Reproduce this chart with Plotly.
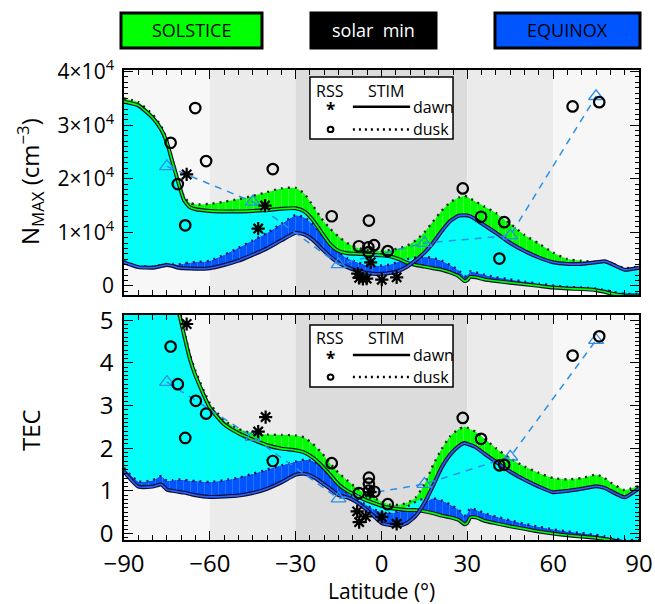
import numpy as np
import plotly.graph_objects as go

# ---------------- data ----------------
LAT = [-90, -85, -80, -77, -75, -73, -71, -69, -67, -65,
       -60, -55, -50, -45, -40, -35, -30,
       -27, -24, -21, -18, -15, -12, -9, -6, -3, 0,
       3, 6, 9, 12, 15, 18, 21, 24, 27, 29, 30, 31, 33, 36,
       40, 45, 50, 55, 60, 65, 70, 75, 78, 80, 85, 90]

NMAX_SOL_DUSK = [35000, 34300, 32000, 29800, 27300, 23500, 19800, 16600, 15500, 15200,
                 15300, 15700, 16200, 16800, 17500, 18200, 18300,
                 17200, 15000, 12600, 10700, 9200, 8000, 7200, 6800, 6600, 6500,
                 6700, 7000, 7500, 8500, 10000, 12000, 14000, 15600, 16500, 16800, 16600, 16300, 15700, 14800,
                 13600, 11600, 9500, 7900, 6200, 5000, 4650, 4500, 4700, 4300, 3300, 3650]
NMAX_SOL_DAWN = [34400, 33700, 31400, 29200, 26800, 23000, 19300, 16000, 14700, 14300,
                 14000, 13900, 13900, 14000, 14150, 14400, 14500,
                 13900, 12300, 10000, 7800, 6500, 6100, 6000, 5900, 5800, 5700,
                 5500, 5000, 4300, 3900, 3600, 3300, 3000, 2500, 1800, 900, 1100, 1700, 1600, 1200,
                 900, 600, 300, 0, -300, -500, -600, -800, -1100, -1400, -1800, -1800]
NMAX_EQ_DUSK = [4600, 3700, 3600, 3900, 4100, 4100, 4000, 4200, 4350, 4450,
                4700, 5800, 7100, 8500, 9900, 11600, 13200,
                12800, 11500, 9600, 7900, 6300, 5200, 4500, 4000, 3800, 3800,
                4000, 4500, 5000, 5300, 5400, 5200, 4700, 3900, 2900, 1800, 2000, 2700, 2500, 2100,
                1600, 1200, 800, 400, 100, -200, -300, -500, -800, -1000, -1500, -1500]
NMAX_EQ_DAWN = [4400, 3500, 3400, 3700, 3900, 3700, 3400, 3300, 3250, 3200,
                3300, 3900, 4700, 5800, 7000, 8500, 9900,
                9600, 8600, 7000, 5500, 4300, 3500, 2900, 2500, 2250, 2250,
                2400, 2800, 3600, 4800, 6200, 8000, 10200, 12100, 13100, 13200, 13150, 13000, 12400, 11300,
                9900, 8000, 6500, 5300, 4400, 4100, 4100, 4400, 4600, 4200, 3000, 3400]

TEC_SOL_DUSK = [6.5, 6.3, 6.0, 5.8, 5.6, 5.45, 5.3, 4.75, 4.2, 3.8,
                3.05, 2.65, 2.45, 2.35, 2.32, 2.31, 2.30,
                2.25, 2.1, 1.9, 1.65, 1.42, 1.25, 1.08, 0.95, 0.85, 0.75,
                0.68, 0.67, 0.72, 0.85, 1.15, 1.6, 1.98, 2.28, 2.45, 2.5, 2.48, 2.45, 2.38, 2.22,
                2.0, 1.76, 1.57, 1.42, 1.3, 1.27, 1.3, 1.38, 1.3, 1.2, 1.02, 1.12]
TEC_SOL_DAWN = [6.4, 6.2, 5.9, 5.7, 5.5, 5.35, 5.2, 4.65, 4.1, 3.7,
                2.95, 2.56, 2.35, 2.2, 2.07, 1.99, 1.95,
                1.9, 1.78, 1.6, 1.38, 1.15, 1.0, 0.9, 0.8, 0.72, 0.65,
                0.6, 0.57, 0.55, 0.55, 0.52, 0.48, 0.42, 0.38, 0.32, 0.22, 0.25, 0.38, 0.38, 0.3,
                0.24, 0.17, 0.11, 0.05, 0.0, -0.04, -0.07, -0.1, -0.13, -0.15, -0.2, -0.2]
TEC_EQ_DUSK = [1.54, 1.22, 1.25, 1.35, 1.24, 1.25, 1.27, 1.26, 1.24, 1.23,
               1.21, 1.25, 1.31, 1.4, 1.5, 1.6, 1.69,
               1.73, 1.7, 1.56, 1.35, 1.12, 0.95, 0.82, 0.7, 0.58, 0.5,
               0.48, 0.52, 0.63, 0.75, 0.82, 0.83, 0.78, 0.68, 0.56, 0.42, 0.47, 0.6, 0.56, 0.48,
               0.4, 0.31, 0.23, 0.16, 0.1, 0.05, 0.01, -0.03, -0.06, -0.1, -0.15, -0.15]
TEC_EQ_DAWN = [1.45, 1.1, 1.1, 1.15, 1.03, 1.0, 0.98, 0.96, 0.93, 0.9,
               0.86, 0.87, 0.89, 0.95, 1.05, 1.2, 1.38,
               1.4, 1.33, 1.2, 1.05, 0.9, 0.85, 0.75, 0.6, 0.43, 0.25,
               0.2, 0.19, 0.25, 0.42, 0.72, 1.12, 1.55, 1.85, 2.05, 2.12, 2.1, 2.08, 2.02, 1.87,
               1.68, 1.45, 1.26, 1.1, 0.97, 1.0, 1.05, 1.11, 1.07, 1.0, 0.85, 1.06]

RSS_DAWN_NMAX_LAT = [-68.1, -40.7, -43.1, -8.3, -7.8, -6.5, -5.2, -3.8, 0.1, 5.3]
RSS_DAWN_NMAX = [20800, 15000, 10700, 2300, 1500, 1300, 1350, 4400, 1150, 1600]
RSS_DUSK_NMAX_LAT = [-73.7, -65.1, -61.3, -71.2, -68.6, -38.0, -17.4, -4.4, -7.9, -4.6,
                     -2.6, -4.5, 2.2, 28.4, 34.8, 42.9, 41.2, 66.8, 76.1]
RSS_DUSK_NMAX = [26700, 33200, 23300, 19000, 11300, 21800, 13000, 12200, 7400, 7200,
                 7600, 6300, 6500, 18200, 12900, 11900, 5100, 33500, 34300]

RSS_DAWN_TEC_LAT = [-68.1, -40.5, -43.1, -8.5, -7.8, -5.5, -4.0, 0.1, 5.3]
RSS_DAWN_TEC = [4.91, 2.73, 2.39, 0.52, 0.27, 0.40, 0.97, 0.39, 0.23]
RSS_DUSK_TEC_LAT = [-73.7, -71.2, -64.9, -61.3, -68.6, -38.0, -17.4, -4.4, -4.4, -4.4,
                    -7.9, -2.5, 2.2, 28.4, 34.8, 41.2, 42.9, 66.8, 76.1]
RSS_DUSK_TEC = [4.38, 3.50, 3.11, 2.81, 2.24, 1.70, 1.65, 1.31, 1.17, 1.01,
                0.95, 0.98, 0.69, 2.71, 2.22, 1.60, 1.61, 4.17, 4.62]

TRI_LAT = [-75, -45, -15, 15, 45, 75]
TRI_NMAX = [22300, 15700, 4000, 8000, 9400, 35400]
TRI_TEC = [3.55, 2.26, 0.82, 1.16, 1.80, 4.53]

X_TICKS = [-90, -60, -30, 0, 30, 60, 90]
X_TICKTEXT = ["\u221290", "\u221260", "\u221230", "0", "30", "60", "90"]
NMAX_TICKS = [0, 10000, 20000, 30000, 40000]
NMAX_TICKTEXT = ["0", "1\u00d710<sup>4</sup>", "2\u00d710<sup>4</sup>", "3\u00d710<sup>4</sup>", "4\u00d710<sup>4</sup>"]
TEC_TICKS = [0, 1, 2, 3, 4, 5]

# ---------------- styles ----------------
GREEN = "#00ff00"
CYAN = "#00ffff"
BLUE = "#0055ff"
TRI_COL = "#2a8fe6"
FONT = "Open Sans"

fig = go.Figure()


def add_panel(gd, gs, bd, bs, xa, ya, rss_dawn, rss_dusk, tri):
    arr = np.sort(np.vstack([gd, gs, bd, bs]).astype(float), axis=0)
    s4, s3, s2, s1 = arr[0], arr[1], arr[2], arr[3]
    layers = [(s4, s3, BLUE, "#5b8cff"), (s3, s2, CYAN, "#30f5b8"), (s2, s1, GREEN, "#7dff7d")]
    sp = dict(shape="spline", smoothing=0.5)
    for lo, hi, col, fg in layers:
        fig.add_trace(go.Scatter(x=LAT, y=lo, mode="lines", line=dict(width=0, **sp),
                                 showlegend=False, hoverinfo="skip", xaxis=xa, yaxis=ya))
        fig.add_trace(go.Scatter(x=LAT, y=hi, mode="lines", line=dict(width=0, **sp),
                                 fill="tonexty", fillcolor=col,
                                 fillpattern=dict(shape="|", bgcolor=col, fgcolor=fg, size=7, solidity=0.15),
                                 showlegend=False, hoverinfo="skip", xaxis=xa, yaxis=ya))
    fig.add_trace(go.Scatter(x=LAT, y=bd, mode="lines",
                             line=dict(color="#0a1a70", width=2.4, dash="2px,5px", **sp),
                             showlegend=False, hoverinfo="skip", xaxis=xa, yaxis=ya))
    fig.add_trace(go.Scatter(x=LAT, y=gd, mode="lines",
                             line=dict(color="#1a2a1a", width=2.4, dash="2px,5px", **sp),
                             showlegend=False, hoverinfo="skip", xaxis=xa, yaxis=ya))
    for y, col in ((gs, GREEN), (bs, "#2a62ff")):
        fig.add_trace(go.Scatter(x=LAT, y=y, mode="lines", line=dict(color="#101030", width=4, **sp),
                                 showlegend=False, hoverinfo="skip", xaxis=xa, yaxis=ya))
        fig.add_trace(go.Scatter(x=LAT, y=y, mode="lines", line=dict(color=col, width=1.6, **sp),
                                 showlegend=False, hoverinfo="skip", xaxis=xa, yaxis=ya))
    fig.add_trace(go.Scatter(x=TRI_LAT, y=tri, mode="lines+markers",
                             line=dict(color=TRI_COL, width=1.5, dash="7px,6px"),
                             marker=dict(symbol="triangle-up-open", size=13, color=TRI_COL, line=dict(width=1.3)),
                             showlegend=False, hoverinfo="skip", xaxis=xa, yaxis=ya))
    fig.add_trace(go.Scatter(x=rss_dusk[0], y=rss_dusk[1], mode="markers",
                             marker=dict(symbol="circle-open", size=10.5, color="black", line=dict(width=2.2)),
                             showlegend=False, hoverinfo="skip", xaxis=xa, yaxis=ya))
    fig.add_trace(go.Scatter(x=rss_dawn[0], y=rss_dawn[1], mode="markers",
                             marker=dict(symbol="asterisk-open", size=11, color="black", line=dict(width=2.2, color="black")),
                             showlegend=False, hoverinfo="skip", xaxis=xa, yaxis=ya))


add_panel(NMAX_SOL_DUSK, NMAX_SOL_DAWN, NMAX_EQ_DUSK, NMAX_EQ_DAWN, "x", "y",
          (RSS_DAWN_NMAX_LAT, RSS_DAWN_NMAX), (RSS_DUSK_NMAX_LAT, RSS_DUSK_NMAX), TRI_NMAX)
add_panel(TEC_SOL_DUSK, TEC_SOL_DAWN, TEC_EQ_DUSK, TEC_EQ_DAWN, "x2", "y2",
          (RSS_DAWN_TEC_LAT, RSS_DAWN_TEC), (RSS_DUSK_TEC_LAT, RSS_DUSK_TEC), TRI_TEC)

shapes = []
annotations = []

BANDS = [(-90, -60, "#f7f7f7"), (-60, -30, "#ebebeb"), (-30, 30, "#dcdcdc"),
         (30, 60, "#ebebeb"), (60, 90, "#f7f7f7")]
for xr, yr in (("x", "y domain"), ("x2", "y2 domain")):
    for a, b, c in BANDS:
        shapes.append(dict(type="rect", xref=xr, yref=yr, x0=a, x1=b, y0=0, y1=1,
                           fillcolor=c, line=dict(width=0), layer="below"))

for xr, yr, top, bot, r1, r2, r3 in (("x", "y domain", 0.969, 0.693, 0.908, 0.837, 0.736),
                                      ("x2", "y2 domain", 0.956, 0.680, 0.898, 0.822, 0.724)):
    shapes.append(dict(type="rect", xref=xr, yref=yr, x0=-25, x1=25, y0=bot, y1=top,
                       fillcolor="white", line=dict(color="black", width=1.5), layer="above"))
    shapes.append(dict(type="line", xref=xr, yref=yr, x0=-10, x1=10, y0=r2, y1=r2,
                       line=dict(color="black", width=2.5), layer="above"))
    shapes.append(dict(type="line", xref=xr, yref=yr, x0=-10, x1=10, y0=r3, y1=r3,
                       line=dict(color="black", width=2.5, dash="2px,4px"), layer="above"))
    shapes.append(dict(type="circle", xref=xr, yref=yr, x0=-18.8, x1=-16.8, y0=r3 - 0.012, y1=r3 + 0.012,
                       line=dict(color="black", width=2), layer="above"))
    for txt, x, y, anc in (("RSS", -18.0, r1, "center"), ("STIM", 1.6, r1, "center"),
                           ("dawn", 10.3, r2, "left"), ("dusk", 10.3, r3, "left")):
        annotations.append(dict(text=txt, xref=xr, yref=yr, x=x, y=y, xanchor=anc, yanchor="middle",
                                showarrow=False, font=dict(family=FONT, size=16, color="black")))
    annotations.append(dict(text="<b>*</b>", xref=xr, yref=yr, x=-17.8, y=r2, xanchor="center",
                            yanchor="middle", yshift=-3, showarrow=False,
                            font=dict(family=FONT, size=17, color="black")))


def px_x(p):
    return (p - 124) / 515.0


def px_y(p):
    return (540 - p) / 470.0


for x0, x1, fill, txt, tcol in ((121, 262, GREEN, "SOLSTICE", "black"),
                                 (311, 436, "black", "solar  min", "white"),
                                 (495, 640, BLUE, "EQUINOX", "black")):
    shapes.append(dict(type="rect", xref="paper", yref="paper", x0=px_x(x0), x1=px_x(x1),
                       y0=px_y(48), y1=px_y(13), fillcolor=fill, line=dict(color="black", width=3)))
    annotations.append(dict(text=txt, xref="paper", yref="paper", x=px_x((x0 + x1) / 2), y=px_y(30.5),
                            xanchor="center", yanchor="middle", showarrow=False,
                            font=dict(family=FONT, size=18, color=tcol)))

annotations.append(dict(text="N<sub>MAX</sub> (cm<sup>\u22123</sup>)", xref="paper", yref="paper",
                        x=px_x(30), y=px_y(182), textangle=-90, xanchor="center", yanchor="middle",
                        showarrow=False, font=dict(family=FONT, size=24, color="black")))
annotations.append(dict(text="TEC", xref="paper", yref="paper", x=px_x(30), y=px_y(430), textangle=-90,
                        xanchor="center", yanchor="middle", showarrow=False,
                        font=dict(family=FONT, size=24, color="black")))
annotations.append(dict(text="Latitude (\u00b0)", xref="paper", yref="paper", x=px_x(381.5), y=px_y(591),
                        xanchor="center", yanchor="middle", showarrow=False,
                        font=dict(family=FONT, size=21, color="black")))

axis_common = dict(showline=True, linecolor="black", linewidth=1.5, mirror="allticks", ticks="inside",
                   ticklen=9, tickwidth=1.3, tickcolor="black", showgrid=False, zeroline=False,
                   automargin=False)
xminor = dict(dtick=5, ticklen=5, ticks="inside", tickcolor="black", tickwidth=1)

fig.update_layout(
    width=655, height=604,
    margin=dict(l=124, r=16, t=70, b=64, autoexpand=False),
    paper_bgcolor="white", plot_bgcolor="white",
    showlegend=False,
    font=dict(family=FONT, color="black"),
    xaxis=dict(domain=[0, 1], anchor="y", range=[-90, 90], tickvals=X_TICKS, showticklabels=False,
               minor=xminor, **axis_common),
    xaxis2=dict(domain=[0, 1], anchor="y2", range=[-90, 90], tickvals=X_TICKS, ticktext=X_TICKTEXT,
                tickfont=dict(family=FONT, size=24), ticklabelstandoff=1, minor=xminor, **axis_common),
    yaxis=dict(domain=[0.5213, 1], anchor="x", range=[-1700, 40300], tickvals=NMAX_TICKS,
               ticktext=NMAX_TICKTEXT, tickfont=dict(family=FONT, size=21), ticklabelstandoff=4,
               minor=dict(dtick=1000, ticklen=4, ticks="inside", tickcolor="black", tickwidth=1),
               **axis_common),
    yaxis2=dict(domain=[0, 0.4787], anchor="x2", range=[-0.15, 5.12], tickvals=TEC_TICKS,
                tickfont=dict(family=FONT, size=24), ticklabelstandoff=4,
                minor=dict(dtick=0.1, ticklen=4, ticks="inside", tickcolor="black", tickwidth=1),
                **axis_common),
    shapes=shapes,
    annotations=annotations,
)

fig.write_html("out.html", config={"displayModeBar": False},
               post_script="document.body.style.margin='0';document.body.style.padding='0';"
                           "document.body.style.overflow='hidden';")
